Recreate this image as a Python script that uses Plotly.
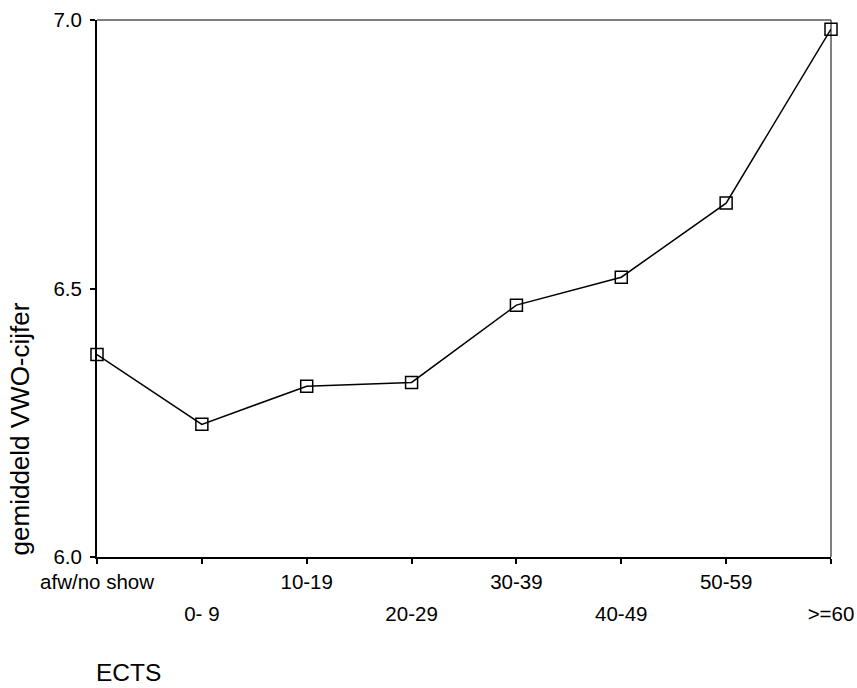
import plotly.graph_objects as go

categories = ["afw/no show", "0- 9", "10-19", "20-29", "30-39", "40-49", "50-59", ">=60"]
values = [6.377, 6.247, 6.318, 6.325, 6.469, 6.521, 6.659, 6.983]
y_ticks = [6.0, 6.5, 7.0]
y_ticktext = ["6.0", "6.5", "7.0"]
x_title = "ECTS"
y_title = "gemiddeld VWO-cijfer"

idx = list(range(len(categories)))
odd_idx = [i for i in idx if i % 2 == 1]

FONT = "Arial, Liberation Sans, sans-serif"
TICK_SIZE = 20.5

fig = go.Figure()
fig.add_trace(go.Scatter(
    x=idx, y=values, mode="lines+markers",
    line=dict(color="black", width=1.5),
    marker=dict(symbol="square-open", size=12, color="black", line=dict(width=1.5)),
    cliponaxis=False, showlegend=False,
))
fig.add_trace(go.Scatter(x=[None], y=[None], xaxis="x2", showlegend=False, hoverinfo="skip"))

fig.update_layout(
    width=857, height=688,
    margin=dict(l=97, r=26, t=20, b=131, autoexpand=False),
    paper_bgcolor="white", plot_bgcolor="white",
    font=dict(family=FONT, color="black", size=TICK_SIZE),
    xaxis=dict(
        range=[0, 7], tickmode="array", tickvals=idx,
        ticktext=[categories[i] if i % 2 == 0 else "" for i in idx],
        ticks="outside", ticklen=5, tickwidth=1.5, tickcolor="black",
        showline=True, linewidth=2, linecolor="black",
        showgrid=False, zeroline=False, automargin=False,
        tickfont=dict(size=TICK_SIZE), ticklabelstandoff=0,
    ),
    xaxis2=dict(
        range=[0, 7], overlaying="x", side="bottom", anchor="y",
        tickmode="array", tickvals=odd_idx,
        ticktext=[categories[i] for i in odd_idx],
        ticks="", showline=False, showgrid=False, zeroline=False, automargin=False,
        tickfont=dict(size=TICK_SIZE), ticklabelstandoff=42,
    ),
    yaxis=dict(
        range=[6.0, 7.0], tickmode="array", tickvals=y_ticks, ticktext=y_ticktext,
        ticks="outside", ticklen=5, tickwidth=1.5, tickcolor="black",
        showline=True, linewidth=2, linecolor="black",
        showgrid=False, zeroline=False, automargin=False,
        tickfont=dict(size=TICK_SIZE), ticklabelstandoff=4,
    ),
    shapes=[
        dict(type="line", xref="paper", yref="paper", x0=0, x1=1, y0=1, y1=1,
             line=dict(color="black", width=1)),
        dict(type="line", xref="paper", yref="paper", x0=1, x1=1, y0=0, y1=1,
             line=dict(color="black", width=1)),
    ],
    annotations=[
        dict(text=x_title, xref="paper", yref="paper", x=-0.004, y=-0.216,
             xanchor="left", yanchor="middle", showarrow=False,
             font=dict(size=24.5)),
        dict(text=y_title, xref="paper", yref="paper", x=-0.105, y=0,
             xanchor="center", yanchor="bottom", textangle=-90, showarrow=False,
             font=dict(size=26)),
    ],
)

fig.write_html("out.html", config={"displayModeBar": False},
               post_script="document.body.style.margin='0';")
